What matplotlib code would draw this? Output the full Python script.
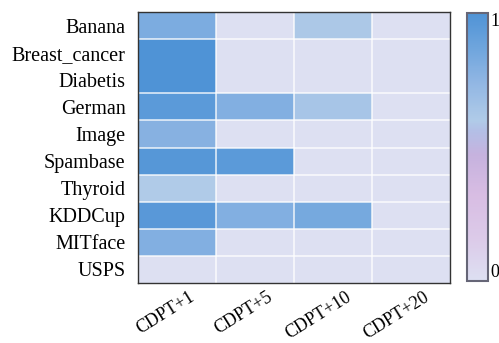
import numpy as np
import matplotlib
matplotlib.use("Agg")
import matplotlib.pyplot as plt
import matplotlib.transforms as mtransforms
from matplotlib.colors import LinearSegmentedColormap

plt.rcParams["font.family"] = ["Liberation Serif", "DejaVu Serif"]

# datasets and settings
datasets = ["Banana", "Breast_cancer", "Diabetis", "German", "Image",
            "Spambase", "Thyroid", "KDDCup", "MITface", "USPS"]
settings = ["CDPT+1", "CDPT+5", "CDPT+10", "CDPT+20"]

# normalised scores, one row per dataset
banana = [0.82, 0.0, 0.62, 0.0]
breast_cancer = [1.0, 0.0, 0.0, 0.0]
diabetis = [1.0, 0.0, 0.0, 0.0]
german = [0.95, 0.80, 0.64, 0.0]
image = [0.78, 0.0, 0.0, 0.0]
spambase = [0.97, 0.95, 0.0, 0.0]
thyroid = [0.60, 0.0, 0.0, 0.0]
kddcup = [0.96, 0.80, 0.84, 0.0]
mitface = [0.80, 0.0, 0.0, 0.0]
usps = [0.0, 0.0, 0.0, 0.0]

scores = np.array([banana, breast_cancer, diabetis, german, image,
                   spambase, thyroid, kddcup, mitface, usps])

cmap = LinearSegmentedColormap.from_list("lav_blue", [
    (0.00, "#dde0f2"),
    (0.15, "#dccbe9"),
    (0.32, "#d8bde3"),
    (0.47, "#c6b2de"),
    (0.56, "#b3bfe6"),
    (0.60, "#b0cbe8"),
    (0.75, "#8fb5e3"),
    (0.85, "#74a8de"),
    (1.00, "#4f93d6"),
])

fig = plt.figure(figsize=(4.99, 3.43), dpi=100)
ax = fig.add_axes([138 / 499, 1 - 283 / 343, 312 / 499, 271 / 343])
im = ax.pcolormesh(scores, cmap=cmap, vmin=0, vmax=1)
ax.set_xlim(0, len(settings))
ax.set_ylim(len(datasets), 0)

# white separators between cells
for x in range(1, len(settings)):
    ax.axvline(x, color="white", lw=1.2, alpha=0.8)
for y in range(1, len(datasets)):
    if y == 2:
        continue
    ax.axhline(y, color="white", lw=1.2, alpha=0.8)

ax.set_yticks(np.arange(len(datasets)) + 0.5)
ax.set_yticklabels(datasets, fontsize=14.5)
ax.set_xticks(np.arange(len(settings)) + 0.5)
ax.set_xticklabels(settings, fontsize=13, rotation=32, ha="right",
                   rotation_mode="anchor")
ax.tick_params(axis="y", length=0, pad=9)
ax.tick_params(axis="x", length=0, pad=4)
shift = mtransforms.ScaledTranslation(12 / 100, 0, fig.dpi_scale_trans)
for lbl in ax.get_xticklabels():
    lbl.set_transform(lbl.get_transform() + shift)
for s in ax.spines.values():
    s.set_color("#333333")
    s.set_linewidth(1.0)

cax = fig.add_axes([467 / 499, 1 - 281 / 343, 21 / 499, 268 / 343])
cb = fig.colorbar(im, cax=cax)
cb.set_ticks([0, 1])
cb.set_ticklabels(["0", "1"])
cb.ax.tick_params(length=0, labelsize=13, pad=2)
labels = cb.ax.get_yticklabels()
labels[0].set_verticalalignment("bottom")
labels[1].set_verticalalignment("top")
cb.outline.set_edgecolor("#666677")
cb.outline.set_linewidth(1.5)

fig.savefig("out.png", dpi=100)
